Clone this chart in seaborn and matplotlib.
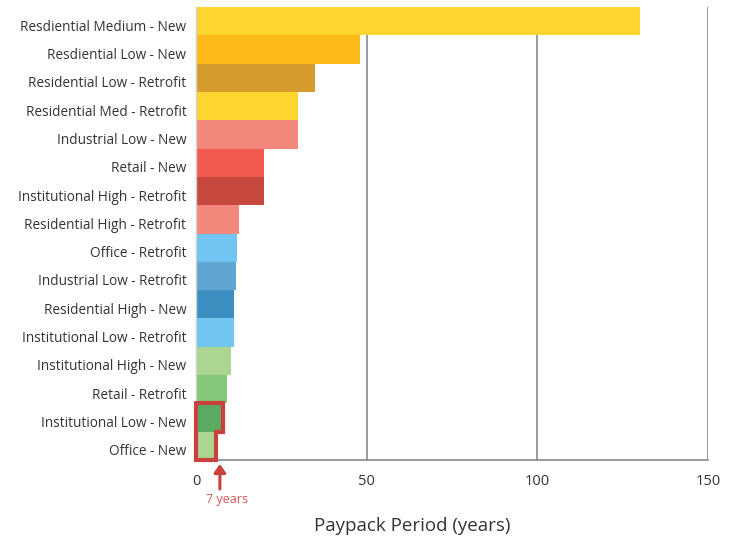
import matplotlib
matplotlib.use("Agg")
import matplotlib.pyplot as plt
import matplotlib.transforms as mtransforms
import seaborn as sns
import pandas as pd
from matplotlib.patches import FancyArrowPatch

categories = [
    "Resdiential Medium - New", "Resdiential Low - New", "Residential Low - Retrofit",
    "Residential Med - Retrofit", "Industrial Low - New", "Retail - New",
    "Institutional High - Retrofit", "Residential High - Retrofit", "Office - Retrofit",
    "Industrial Low - Retrofit", "Residential High - New", "Institutional Low - Retrofit",
    "Institutional High - New", "Retail - Retrofit", "Institutional Low - New", "Office - New",
]
values = [130, 48, 35, 30, 30, 20, 20, 12.5, 12, 11.7, 11.2, 11.2, 10.3, 9, 8, 6]
colors = [
    "#FFD530", "#FDB918", "#D69B2D", "#FFD530", "#F4877B", "#F25C50", "#C5473E", "#F4877B",
    "#71C5F0", "#60A6D3", "#3C8FC0", "#71C5F0", "#ACD592", "#86C879", "#5BAA62", "#ACD592",
]
xticks = [0, 50, 100, 150]
threshold = 7

sns.set_theme(style="white")
plt.rcParams["font.family"] = ["Open Sans", "DejaVu Sans"]

df = pd.DataFrame({"cat": categories, "val": values})
fig = plt.figure(figsize=(7.37, 5.39), dpi=100)
ax = fig.add_axes([196/737, 1-460/539, 512/737, 453/539])

for x in xticks[1:]:
    ax.axvline(x, color="#8a8a8a", lw=1.2, zorder=0)

sns.barplot(data=df, x="val", y="cat", hue="cat", palette=colors, legend=False,
            width=1.0, saturation=1, linewidth=0, edgecolor="none", ax=ax, zorder=2)

ax.set_xlim(0, 150)
ax.set_ylim(len(categories) - 0.5, -0.5)
ax.set_xticks(xticks)
ax.set_xticklabels([str(t) for t in xticks], fontsize=10.5, color="#333333")
ax.tick_params(axis="y", labelsize=9.8, colors="#333333", length=0, pad=7)
ax.tick_params(axis="x", length=0, pad=10)
shift = mtransforms.ScaledTranslation(0, -4 / 100, fig.dpi_scale_trans)
for lbl in ax.get_yticklabels():
    lbl.set_color("#333333")
    lbl.set_transform(lbl.get_transform() + shift)
ax.set_ylabel("")
ax.set_xlabel("Paypack Period (years)", fontsize=13.5, color="#333333")
ax.xaxis.set_label_coords((412 - 196) / 512, -(526 - 460) / 453)
ax.xaxis.label.set_va("center")

for s in ["top", "right"]:
    ax.spines[s].set_visible(False)
ax.spines["left"].set_color("#d0d0d0")
ax.spines["left"].set_linewidth(1.0)
ax.spines["bottom"].set_color("#888888")
ax.spines["bottom"].set_linewidth(1.2)
ax.spines["bottom"].set_zorder(1)

# highlight outline around the two shortest bars
n = len(categories)
v1, v2 = values[-2], values[-1]
y_top = n - 2 - 0.5
y_mid = n - 1 - 0.5
y_bot = n - 1 + 0.5
xs = [0, v1, v1, v2, v2, 0, 0]
ys = [y_top, y_top, y_mid, y_mid, y_bot, y_bot, y_top]
ax.plot(xs, ys, color="#C9413C", lw=3, zorder=5, clip_on=False, solid_joinstyle="miter")

# arrow + label at threshold
trans = ax.get_xaxis_transform()
arr = FancyArrowPatch((threshold, -(489 - 460) / 453), (threshold, -(464 - 460) / 453),
                      transform=trans,
                      arrowstyle="-|>,head_length=5,head_width=3.5", color="#C9413C",
                      lw=2.2, clip_on=False, zorder=6, shrinkA=0, shrinkB=0)
ax.add_patch(arr)
ax.text(threshold + 2, -(500 - 460) / 453, f"{threshold} years", transform=trans,
        ha="center", va="center", fontsize=9, color="#D9534F")

fig.savefig("out.png", dpi=100)
